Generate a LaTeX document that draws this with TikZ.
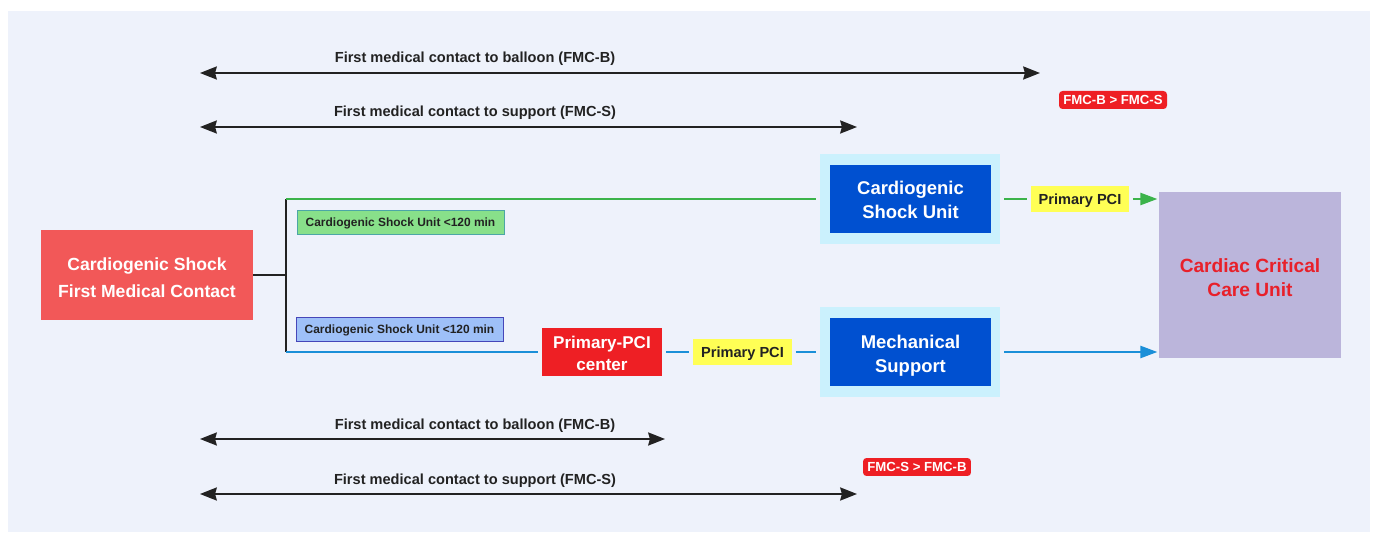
\documentclass[tikz,border=0pt]{standalone}
\usepackage{fontspec}
\setmainfont{Liberation Sans}
\usetikzlibrary{arrows.meta}

\definecolor{panel}{HTML}{EEF2FB}
\definecolor{leadred}{HTML}{F25858}
\definecolor{pcired}{HTML}{EE1F24}
\definecolor{unitblue}{HTML}{0050D0}
\definecolor{halo}{HTML}{CBF1FD}
\definecolor{ccufill}{HTML}{BBB5DB}
\definecolor{ccutext}{HTML}{E8202A}
\definecolor{pciyellow}{HTML}{FFFF55}
\definecolor{routegreen}{HTML}{3BB34A}
\definecolor{routeblue}{HTML}{1A8FD8}
\definecolor{taggreen}{HTML}{88E08A}
\definecolor{tagblue}{HTML}{9EC0F8}
\definecolor{ink}{HTML}{222222}

% taller first line, pushes two-line labels down a little
\newcommand{\toppad}[1]{\rule{0pt}{#1}}

\begin{document}
\begin{tikzpicture}[x=0.02cm, y=-0.02cm, every node/.style={inner sep=0pt, align=center, text depth=0pt, font=\bfseries},
    span/.style={draw=ink, line width=0.85pt, {Stealth[length=9.6pt,width=7.5pt,inset=1pt]}-{Stealth[length=9.6pt,width=7.5pt,inset=1pt]}},
    spanlabel/.style={text=ink, font=\bfseries\fontsize{8.3}{9}\selectfont},
    badge/.style={fill=pcired, text=white, rounded corners=2pt, minimum width=2.16cm, minimum height=0.36cm, font=\bfseries\fontsize{7.5}{9}\selectfont},
    halobox/.style={fill=halo, minimum width=3.6cm, minimum height=1.82cm, outer sep=2.5pt},
    unitbox/.style={fill=unitblue, text=white, minimum width=3.22cm, minimum height=1.38cm, font=\bfseries\fontsize{10.5}{13.6}\selectfont},
    pcibox/.style={fill=pciyellow, text=ink, minimum height=0.51cm, outer sep=2.2pt, font=\bfseries\fontsize{8.3}{10}\selectfont},
    tag/.style={line width=0.5pt, minimum width=4.14cm, minimum height=0.48cm, text=ink, font=\bfseries\fontsize{6.8}{8}\selectfont}]

    \useasboundingbox (0,0) rectangle (1373,533);
    \fill[panel] (8,11) rectangle (1370,532);

    % time spans, upper
    \coordinate (ua) at (200,73);
    \coordinate (ub) at (1040,73);
    \coordinate (uc) at (200,127);
    \coordinate (ud) at (857,127);
    \node[spanlabel] (uballoon) at (475,57) {First medical contact to balloon (FMC-B)};
    \node[spanlabel] (usupport) at (475,111) {First medical contact to support (FMC-S)};
    \draw[span] (ua) -- (ub);
    \draw[span] (uc) -- (ud);
    \node[badge] (ubadge) at (1113,100) {FMC-B > FMC-S};

    % first contact
    \node[fill=leadred, text=white, minimum width=4.24cm, minimum height=1.8cm, font=\bfseries\fontsize{10}{15.3}\selectfont] (fmc) at (147,275) {\toppad{10.5pt}Cardiogenic Shock\\First Medical Contact};
    \coordinate (split) at (286,275);
    \coordinate (upper) at (286,199);
    \coordinate (lower) at (286,352);
    \draw[ink, line width=1pt] (fmc.east) -- (split);
    \draw[ink, line width=1pt] (upper) -- (lower);

    % cardiac critical care unit
    \node[fill=ccufill, text=ccutext, minimum width=3.64cm, minimum height=3.32cm, outer sep=1pt, font=\bfseries\fontsize{10.9}{13.6}\selectfont] (ccu) at (1250,275) {\toppad{11pt}Cardiac Critical\\Care Unit};

    % green route
    \node[tag, fill=taggreen, draw=teal!70] (greentag) at (400.5,222) {Cardiogenic Shock Unit <120 min};
    \node[halobox] (csuhalo) at (910,199) {};
    \node[unitbox] (csu) at (910.5,199) {\toppad{9pt}Cardiogenic\\Shock Unit};
    \node[pcibox, minimum width=1.96cm] (pcitop) at (1080,199) {Primary PCI};
    \draw[routegreen, line width=0.75pt] (upper) -- (csuhalo.west);
    \draw[routegreen, line width=0.75pt] (csuhalo.east) -- (pcitop.west);
    \draw[routegreen, line width=0.75pt, -{Triangle[length=9.6pt,width=7pt]}] (pcitop.east) -- (pcitop.east -| ccu.west);

    % blue route
    \node[tag, fill=tagblue, draw=blue!45!gray] (bluetag) at (399.5,329) {Cardiogenic Shock Unit <120 min};
    \node[fill=pcired, text=white, minimum width=2.4cm, minimum height=0.98cm, outer sep=2.5pt, font=\bfseries\fontsize{9.7}{12.4}\selectfont] (pcictr) at (602,352) {\toppad{8.8pt}Primary-PCI\\center};
    \node[pcibox, minimum width=1.98cm] (pcibot) at (742.5,352) {Primary PCI};
    \node[halobox] (mechhalo) at (910,352) {};
    \node[unitbox] (mech) at (910.5,352) {\toppad{9.5pt}Mechanical\\Support};
    \draw[routeblue, line width=0.75pt] (lower) -- (pcictr.west);
    \draw[routeblue, line width=0.75pt] (pcictr.east) -- (pcibot.west);
    \draw[routeblue, line width=0.75pt] (pcibot.east) -- (mechhalo.west);
    \draw[routeblue, line width=0.75pt, -{Triangle[length=9.6pt,width=7pt]}] (mechhalo.east) -- (mechhalo.east -| ccu.west);

    % time spans, lower
    \coordinate (la) at (200,439);
    \coordinate (lb) at (665,439);
    \coordinate (lc) at (200,494);
    \coordinate (ld) at (857,494);
    \node[spanlabel] (lballoon) at (475,424) {First medical contact to balloon (FMC-B)};
    \node[spanlabel] (lsupport) at (475,479) {First medical contact to support (FMC-S)};
    \draw[span] (la) -- (lb);
    \draw[span] (lc) -- (ld);
    \node[badge] (lbadge) at (917,467) {FMC-S > FMC-B};
\end{tikzpicture}
\end{document}
